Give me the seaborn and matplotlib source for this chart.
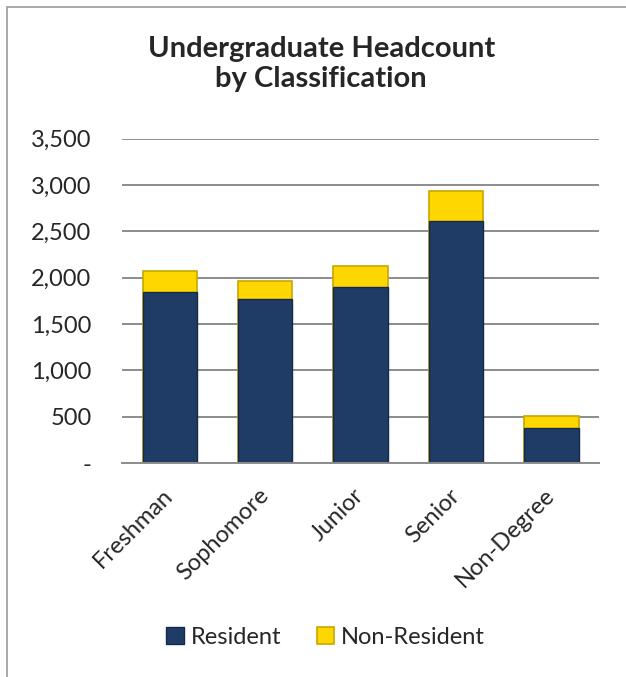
import pandas as pd
import seaborn as sns
import matplotlib.pyplot as plt
from matplotlib.patches import Rectangle

classes = ["Freshman", "Sophomore", "Junior", "Senior", "Non-Degree"]
resident = [1845, 1775, 1905, 2615, 378]
non_resident = [227, 195, 226, 322, 125]

data = pd.DataFrame({"Class": classes, "Resident": resident, "NonResident": non_resident})
data["Total"] = data["Resident"] + data["NonResident"]

sns.set_style("white")
plt.rcParams["font.family"] = ["Lato", "DejaVu Sans"]

navy = "#1F3C66"
gold = "#FFD700"

fig = plt.figure(figsize=(6.26, 6.77), dpi=100)
ax = fig.add_axes([0.195, 0.316, 0.762, 0.479])

# stacked bars: total in gold, resident drawn over it
sns.barplot(data=data, x="Class", y="Total", color=gold, width=0.57,
            edgecolor="#C8A600", linewidth=1.2, saturation=1, label="Non-Resident", ax=ax)
sns.barplot(data=data, x="Class", y="Resident", color=navy, width=0.57,
            edgecolor="#16294A", linewidth=1.0, saturation=1, label="Resident", ax=ax)

ax.set_ylim(0, 3500)
ax.set_xlim(-0.5, 4.5)
ax.set_yticks(range(0, 3501, 500))
ax.set_yticklabels(["-"] + [f"{v:,}" for v in range(500, 3501, 500)], fontsize=17)
ax.yaxis.grid(True, color="#8C8C8C", linewidth=1.4)
ax.set_axisbelow(True)
for s in ["left", "right", "top"]:
    ax.spines[s].set_visible(False)
ax.spines["bottom"].set_color("#8C8C8C")
ax.spines["bottom"].set_linewidth(1.4)
ax.tick_params(axis="y", length=0, pad=22)
ax.tick_params(axis="x", length=0, pad=21)
ax.set_xlabel("")
ax.set_ylabel("")
plt.setp(ax.get_xticklabels(), rotation=45, ha="right", va="center",
         rotation_mode="anchor", fontsize=17)
if ax.get_legend() is not None:
    ax.get_legend().remove()

fig.text(0.513, 0.905, "Undergraduate Headcount\nby Classification", ha="center", va="center",
         fontsize=21, fontweight="bold", linespacing=1.2)

h, l = ax.get_legend_handles_labels()
leg = fig.legend(h[::-1], l[::-1], loc="center", bbox_to_anchor=(0.52, 0.059), ncol=2,
                 frameon=False, fontsize=17, handlelength=0.75, handleheight=0.75,
                 handletextpad=0.3, columnspacing=1.5)

# chart area border
fig.add_artist(Rectangle((7 / 626, -0.1), 1.2, 1 - 7 / 677 + 0.1, transform=fig.transFigure,
                         fill=False, edgecolor="#9A9A9A", linewidth=1.2))

fig.savefig("out.png", dpi=100)
